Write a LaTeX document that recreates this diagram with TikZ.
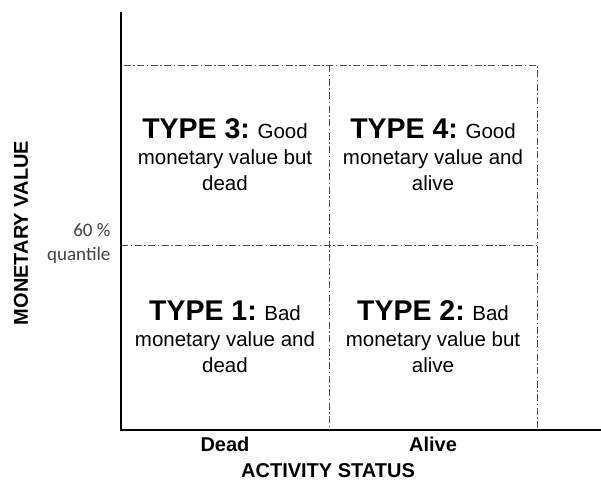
\documentclass[tikz,border=0pt]{standalone}
\usepackage{fontspec}
\setmainfont{Liberation Sans}
\newfontfamily\quantfont{Carlito}
\newcommand\typelabel[1]{{\fontsize{28.5}{30}\selectfont\bfseries TYPE #1:}}
\begin{document}
\begin{tikzpicture}[x=1pt, y=-1pt,
    grid/.style={black!70, line width=0.8pt, dash pattern=on 7pt off 2.5pt on 1.5pt off 2.5pt},
    cell/.style={align=center, font=\fontsize{20.5}{26}\selectfont},
    axislabel/.style={font=\fontsize{20}{22}\selectfont\bfseries}]
    \useasboundingbox (0,0) rectangle (601,482);

    % Cuadrantes
    \draw[grid] (121,65) rectangle (537,430);
    \draw[grid] (329,65) -- (329,430);
    \draw[grid] (121,245) -- (537,245);

    % Ejes
    \draw[line width=2.5pt] (121,12) -- (121,430) -- (601,430);

    % Tipos
    \node[cell] (type3) at (225,155) {\typelabel{3} Good\\ monetary value but\\ dead};
    \node[cell] (type4) at (433,155) {\typelabel{4} Good\\ monetary value and\\ alive};
    \node[cell] (type1) at (225,337) {\typelabel{1} Bad\\ monetary value and\\ dead};
    \node[cell] (type2) at (433,337) {\typelabel{2} Bad\\ monetary value but\\ alive};

    % Etiquetas de los ejes
    \node[axislabel] (dead) at (225,444) {Dead};
    \node[axislabel] (alive) at (433,444) {Alive};
    \node[axislabel] (xtitle) at (328,471) {ACTIVITY STATUS};
    \node[axislabel, rotate=90] (ytitle) at (21,233) {MONETARY VALUE};
    \node[align=right, anchor=east, text=black!75, font=\quantfont\fontsize{19}{24}\selectfont] (quantile) at (114,244) {60 \%\\ quantile};
\end{tikzpicture}
\end{document}
